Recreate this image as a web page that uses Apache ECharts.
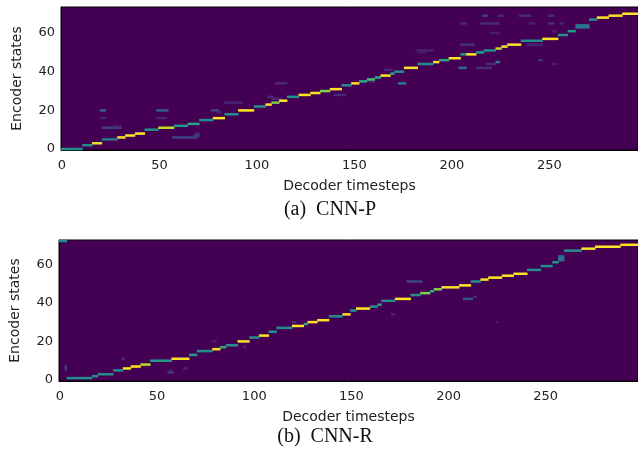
<!DOCTYPE html>
<html lang="en">
<head>
<meta charset="UTF-8" />
<title>Attention alignments</title>
<script src="https://cdn.jsdelivr.net/npm/echarts@6/dist/echarts.min.js"></script>
<style>
  html, body { margin: 0; padding: 0; background: #fff; }
  #main { width: 638px; height: 451px; }
</style>
</head>
<body>
<div id="main"></div>
<script>
// size of each attention matrix (decoder steps x encoder states)
var stepsA = 296, statesA = 74;
var stepsB = 298, statesB = 73;
var xTicks = [0, 50, 100, 150, 200, 250];
var yTicks = [0, 20, 40, 60];

// rows: [encoder state, first decoder step, last decoder step, weight]
// (a) CNN-P, main alignment path
var pathA = [
  [0, 0, 10, 0.5], [2, 11, 15, 0.5], [3, 16, 20, 0.95], [5, 21, 28, 0.4],
  [6, 29, 32, 1], [7, 33, 37, 1], [8, 38, 42, 1], [10, 43, 49, 0.5],
  [11, 50, 57, 0.9], [12, 58, 64, 0.55], [13, 65, 70, 0.6], [15, 71, 77, 0.5],
  [16, 78, 83, 1], [18, 84, 90, 0.5], [20, 91, 98, 1], [22, 99, 104, 0.5],
  [23, 105, 107, 1], [24, 108, 111, 0.8], [25, 112, 115, 1], [27, 116, 121, 0.5],
  [28, 122, 127, 1], [29, 128, 132, 1], [30, 133, 137, 0.8], [31, 138, 143, 1],
  [33, 144, 148, 0.5], [34, 149, 152, 1], [35, 153, 156, 0.6], [36, 157, 160, 0.7],
  [37, 161, 163, 0.6], [38, 164, 168, 1], [39, 169, 170, 0.6], [40, 171, 175, 0.5],
  [42, 176, 182, 1], [44, 183, 190, 0.5], [45, 191, 193, 1], [46, 194, 198, 0.6],
  [47, 199, 204, 1], [49, 205, 207, 0.55], [49, 208, 212, 1], [50, 213, 216, 0.55],
  [51, 217, 222, 0.5], [52, 223, 225, 0.9], [53, 226, 228, 1], [54, 229, 235, 1],
  [56, 236, 246, 0.5], [57, 247, 254, 1], [59, 255, 259, 0.5], [61, 260, 263, 0.55],
  [63, 264, 270, 0.4], [64, 264, 270, 0.4], [67, 271, 274, 0.5], [68, 275, 280, 1],
  [69, 281, 287, 1], [70, 288, 295, 1]
];
// (a) CNN-P, faint stray attention
var noiseA = [
  [20, 20, 22, 0.3], [16, 20, 22, 0.1], [11, 21, 30, 0.18], [12, 27, 30, 0.08],
  [20, 49, 54, 0.3], [16, 49, 53, 0.1], [6, 57, 69, 0.2], [7, 68, 70, 0.2],
  [8, 69, 70, 0.12], [20, 77, 80, 0.2], [19, 80, 81, 0.12], [24, 84, 92, 0.1],
  [26, 108, 112, 0.12], [27, 106, 108, 0.12], [34, 110, 115, 0.12], [28, 140, 145, 0.12],
  [35, 158, 160, 0.1], [34, 173, 176, 0.4], [41, 166, 169, 0.1], [51, 182, 190, 0.1],
  [50, 183, 186, 0.08], [42, 204, 207, 0.35], [42, 213, 220, 0.12], [45, 223, 224, 0.45],
  [44, 218, 222, 0.12], [54, 205, 211, 0.15], [54, 239, 246, 0.1], [46, 245, 246, 0.15],
  [65, 205, 207, 0.12], [65, 215, 224, 0.12], [65, 240, 242, 0.1], [65, 250, 252, 0.12],
  [65, 256, 257, 0.1], [69, 216, 218, 0.18], [69, 224, 226, 0.12], [69, 235, 240, 0.12],
  [69, 250, 252, 0.12], [60, 220, 224, 0.08], [61, 252, 253, 0.1], [44, 252, 254, 0.08]
];
// (b) CNN-R, main alignment path
var pathB = [
  [72, 0, 3, 0.5], [1, 4, 16, 0.5], [2, 17, 19, 0.5], [3, 20, 27, 0.5],
  [5, 28, 32, 0.5], [6, 33, 36, 1], [7, 37, 41, 1], [8, 42, 46, 0.9],
  [10, 47, 57, 0.55], [11, 58, 66, 1], [13, 67, 70, 0.55], [15, 71, 78, 0.5],
  [16, 79, 82, 1], [17, 83, 85, 0.6], [18, 86, 91, 0.5], [20, 92, 97, 1],
  [22, 98, 102, 0.5], [23, 103, 107, 1], [25, 108, 111, 0.5], [27, 112, 119, 0.5],
  [28, 120, 125, 1], [29, 126, 127, 0.6], [30, 128, 132, 1], [31, 133, 138, 1],
  [33, 139, 145, 0.5], [34, 146, 149, 1], [36, 150, 152, 0.55], [37, 153, 159, 1],
  [38, 160, 163, 0.5], [39, 164, 165, 0.6], [41, 166, 172, 0.5], [42, 173, 180, 1],
  [44, 181, 185, 0.5], [45, 186, 190, 0.8], [46, 191, 192, 0.6], [47, 193, 196, 0.8],
  [48, 197, 205, 1], [49, 206, 211, 1], [51, 212, 216, 0.5], [52, 217, 220, 1],
  [53, 221, 227, 1], [54, 228, 233, 1], [55, 234, 240, 1], [57, 241, 247, 0.5],
  [59, 248, 253, 0.5], [61, 254, 256, 0.55], [62, 257, 259, 0.35], [63, 257, 259, 0.4],
  [64, 257, 259, 0.35], [67, 260, 268, 0.5], [68, 269, 275, 1], [69, 276, 288, 1],
  [70, 289, 297, 1]
];
// (b) CNN-R, faint stray attention
var noiseB = [
  [5, 3, 3, 0.1], [6, 3, 3, 0.15], [7, 3, 3, 0.18], [4, 56, 58, 0.18],
  [5, 57, 57, 0.12], [6, 64, 65, 0.1], [11, 32, 33, 0.1], [17, 95, 95, 0.12],
  [20, 79, 80, 0.1], [30, 120, 121, 0.12], [34, 171, 172, 0.1], [51, 179, 186, 0.22],
  [42, 208, 212, 0.25], [43, 213, 214, 0.1], [30, 225, 225, 0.08]
];

var viridis = ['#440154', '#482878', '#3e4989', '#31688e', '#26828e',
  '#1f9e89', '#35b779', '#6ece58', '#b5de2b', '#fde725'];

function cells(segs) {
  var out = [];
  segs.forEach(function (s) {
    for (var t = s[1]; t <= s[2]; t++) out.push([t, s[0], s[3]]);
  });
  return out;
}
function range(n) {
  var a = [];
  for (var i = 0; i < n; i++) a.push(String(i));
  return a;
}
function onTicks(ticks) {
  return function (i) { return ticks.indexOf(i) >= 0; };
}

var font = 'DejaVu Sans';
function xAxisFor(idx, n) {
  return {
    type: 'category', gridIndex: idx, data: range(n),
    name: 'Decoder timesteps', nameLocation: 'middle', nameGap: 29,
    nameTextStyle: { fontFamily: font, fontSize: 14, color: '#222' },
    axisLine: { lineStyle: { color: '#000', width: 1 } },
    axisTick: { alignWithLabel: true, interval: onTicks(xTicks), length: 4, lineStyle: { color: '#000' } },
    axisLabel: { interval: onTicks(xTicks), margin: 9, fontFamily: font, fontSize: 13, color: '#222' },
    splitLine: { show: false }, splitArea: { show: false }
  };
}
function yAxisFor(idx, n, gap) {
  return {
    type: 'category', gridIndex: idx, data: range(n),
    name: 'Encoder states', nameLocation: 'middle', nameGap: gap,
    nameTextStyle: { fontFamily: font, fontSize: 14, color: '#222' },
    axisLine: { lineStyle: { color: '#000', width: 1 } },
    axisTick: { alignWithLabel: true, interval: onTicks(yTicks), length: 4, lineStyle: { color: '#000' } },
    axisLabel: { interval: onTicks(yTicks), margin: 6, fontFamily: font, fontSize: 13, color: '#222' },
    splitLine: { show: false }, splitArea: { show: false }
  };
}

var chart = echarts.init(document.getElementById('main'), null, { renderer: 'canvas' });
chart.setOption({
  animation: false,
  backgroundColor: '#fff',
  grid: [
    { left: 61, top: 7, width: 577, height: 143, show: true, backgroundColor: '#440154', borderColor: '#000', borderWidth: 1 },
    { left: 54, top: 240, width: 584, height: 141, show: true, backgroundColor: '#440154', borderColor: '#000', borderWidth: 1 }
  ],
  xAxis: [xAxisFor(0, stepsA), xAxisFor(1, stepsB)],
  yAxis: [yAxisFor(0, statesA, 37), yAxisFor(1, statesB, 37)],
  visualMap: [
    { show: false, seriesIndex: 0, min: 0, max: 1, dimension: 2, inRange: { color: viridis } },
    { show: false, seriesIndex: 1, min: 0, max: 1, dimension: 2, inRange: { color: viridis } }
  ],
  series: [
    { type: 'heatmap', xAxisIndex: 0, yAxisIndex: 0, progressive: 0,
      data: cells(noiseA).concat(cells(pathA)), emphasis: { disabled: true } },
    { type: 'heatmap', xAxisIndex: 1, yAxisIndex: 1, progressive: 0,
      data: cells(noiseB).concat(cells(pathB)), emphasis: { disabled: true } }
  ],
  graphic: [
    { type: 'text', x: 330, y: 210, style: { text: '(a)  CNN-P', font: '20px "Liberation Serif"', fill: '#111', align: 'center', verticalAlign: 'middle' } },
    { type: 'text', x: 325, y: 437, style: { text: '(b)  CNN-R', font: '20px "Liberation Serif"', fill: '#111', align: 'center', verticalAlign: 'middle' } }
  ]
});
</script>
</body>
</html>
